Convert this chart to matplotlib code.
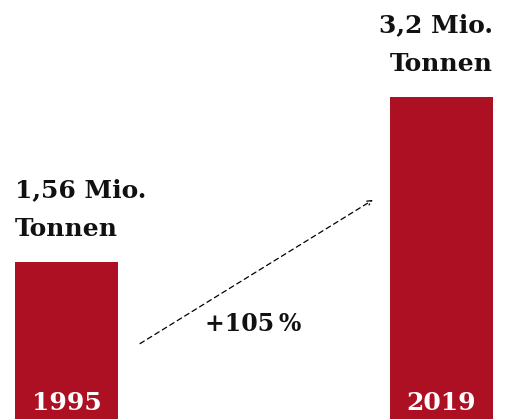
import matplotlib
matplotlib.use('Agg')
import matplotlib.pyplot as plt

# --- Data ---
years = ['1995', '2019']
values = [1.56, 3.2]
value_labels = ['1,56 Mio.\nTonnen', '3,2 Mio.\nTonnen']
change_label = '+105\u2009%'

bar_color = '#AD1023'
font = 'DejaVu Serif'

fig = plt.figure(figsize=(5.07, 4.19), dpi=100)
ax = fig.add_axes([0, 0, 1, 1])

x = [0, 1]
width = 0.275
ax.bar(x, values, width=width, color=bar_color)

ax.set_xlim(-0.1773, 1.1747)
ax.set_ylim(0, 4.17)
ax.axis('off')

# value labels above the bars (left one aligned left, right one aligned right)
aligns = ['left', 'right']
for xi, v, lab, ha in zip(x, values, value_labels, aligns):
    tx = xi - width / 2 if ha == 'left' else xi + width / 2
    ax.text(tx, v + 0.21, lab, ha=ha, va='bottom', fontsize=18,
            fontweight='bold', family=font, color='#111111', linespacing=1.78)

# year labels inside the bars
for xi, yr in zip(x, years):
    ax.text(xi, 0.04, yr, ha='center', va='bottom', fontsize=18,
            fontweight='bold', family=font, color='white')

# dashed growth arrow
ax.annotate('', xy=(0.817, 2.18), xytext=(0.196, 0.75),
            arrowprops=dict(arrowstyle='->', linestyle=(0, (4, 3)), lw=0.9,
                            color='black', shrinkA=0, shrinkB=0,
                            mutation_scale=8))
ax.text(0.497, 0.83, change_label, ha='center', va='bottom', fontsize=17,
        fontweight='bold', family=font, color='#111111')

plt.savefig('out.png', dpi=100)
plt.close()
